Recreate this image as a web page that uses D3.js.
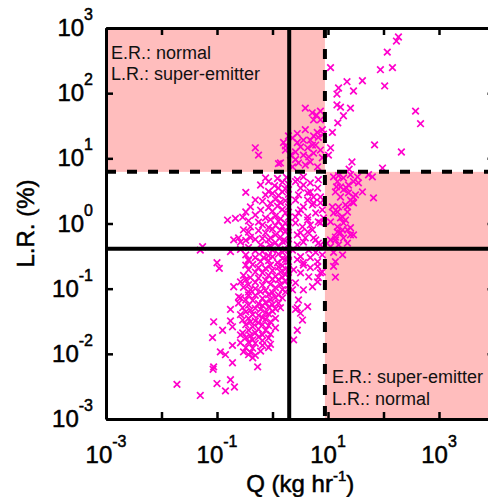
<!DOCTYPE html>
<html><head><meta charset="utf-8">
<script src="https://cdn.jsdelivr.net/npm/d3@7"></script>
<style>
html,body{margin:0;padding:0;background:#fff;}
svg{display:block;font-family:"Liberation Sans",Arial,Helvetica,sans-serif;}
</style></head><body>
<svg id="chart" width="488" height="497"></svg>
<script>
// ---------- data ----------
const xTickExps = [-3, -2, -1, 0, 1, 2, 3, 4];
const xLabelExps = [-3, -1, 1, 3];
const yTickExps = [-3, -2, -1, 0, 1, 2, 3];
const xDomain = [1e-3, 1e4];
const yDomain = [1e-3, 1e3];
const qThresholds = [2.0, 8.8];    // solid, dashed (kg/hr)
const lrThresholds = [0.41, 6.2];  // solid, dashed (%)
const regionLabelsTopLeft = ["E.R.: normal", "L.R.: super-emitter"];
const regionLabelsBottomRight = ["E.R.: super-emitter", "L.R.: normal"];

// [Q (kg/hr), L.R. (%)]
const pointsUpperRight = [
[186,728],[171,631],[117,427],[88,229],[145,247],[105,129],[11.1,247],[22,150],[15.5,120],[28.8,108],
[41.7,155],[14.5,97],[14.5,66],[16.8,61],[25.4,59],[19,45],[15,35],[12,25],[378,53],[465,34],
[69,16.1],[210,12.5],[27,8.8],[24,6.8],[96,7.1],[10.2,11.2],[11.1,14.5]
];
const pointsUpperLeft = [
[3.9,59],[5.2,50],[7.3,53],[6.2,46],[5.5,39],[7.3,39],[3.9,27.5],[2.8,24],[6.4,25],[7.9,27.5],
[5.5,22],[1.94,22],[1.58,17.5],[2.29,20.5],[2.8,17.5],[3.6,19],[4.8,19],[6.7,21],[3.2,15],[4.3,14.5],
[6.0,16],[7.3,13.4],[2.6,12.5],[3.6,11.2],[5.5,12],[7.9,10.2],[4.8,8.8],[2.94,8.5],[2.29,7.4],[6.5,7.4],
[1.39,8.5],[0.49,14.5],[0.56,11.2],[1.71,15.5],[1.28,8.3],[2.11,11.2],[3.9,7.9],[1.71,13.4],[5.25,16],
[2.6,9.6],[4.5,10.5],[8.3,23.6]
];
const pointsLowerRight = [
[12.6,5.2],[14.8,4.4],[16.8,3.65],[13.6,3.05],[19,3.3],[23.4,3.9],[28.8,4.4],[35.3,4.2],[41.7,3.05],
[31.3,2.75],[25.4,2.28],[16.8,2.55],[22.4,1.8],[28.8,2.07],[15.5,1.8],[12.6,1.45],[18.3,1.26],[20.7,1.13],
[14.8,0.89],[16.8,0.72],[22.4,0.8],[25.4,0.67],[13.6,0.62],[11.1,0.56],[66,2.47],[11.1,1.06],[63,5.2],
[53.7,5.6],[15.5,5.4],[19,5.0],[25.4,5.6],[34,5.2],[14.2,3.65],[21.5,3.5],[23.4,2.95],[28.8,2.55],
[20.7,1.93],[27.6,2.15],[12,1.8],[14.8,1.5],[22.4,1.5],[16.8,1.22],[19,1.02],[14.8,0.74],[18.3,0.8],
[25.4,0.86],[28.8,0.67],[13.6,0.56],[19,0.6],[22.4,0.5],[11.1,0.44],[15.5,0.47],[12.6,0.36],[18.3,0.33],
[13.6,0.26],[12.6,0.22],[13.6,0.15]
];
const pointsBetween = [
[2.6,4.4],[3.6,3.9],[4.8,3.05],[6.5,3.5],[2.94,2.75],[4.3,2.28],[5.5,2.07],[7.3,2.55],[3.2,1.62],[2.6,1.26],
[4.3,1.13],[6.0,1.45],[7.3,1.02],[5.25,0.8],[3.2,0.72],[3.9,0.6],[6.0,0.56],[2.8,0.47],[7.3,0.47],[2.8,4.7],
[3.6,5.2],[4.8,4.2],[6.7,4.7],[3.2,3.5],[4.3,2.95],[5.5,2.55],[2.6,2.28],[3.6,1.8],[5.25,1.93],[7.3,2.07],
[2.94,1.45],[4.3,1.26],[7.9,1.62],[2.6,1.02],[3.47,0.89],[4.8,0.95],[6.7,1.06],[8.3,1.22],[2.8,0.28],[3.6,0.25],
[4.8,0.3],[6.5,0.22],[7.9,0.18],[6.7,0.148],[4.5,0.152],[3.2,0.175],[2.6,0.123],[3.6,0.096],[5.25,0.107],[2.94,0.067],
[4.3,0.053],[2.6,0.048],[3.47,0.033],[2.8,0.023],[2.4,0.0164],[3.2,0.31],[3.6,0.23],[4.8,0.21],[6.5,0.26],[7.3,0.175],
[6.5,0.127],[2.8,0.051],[3.2,0.042],[2.8,0.67],[4.3,0.74],[5.5,0.6],[3.6,0.52],[6.7,0.5],[2.29,0.39],[4.5,0.39],
[6.0,0.36],[7.9,0.33],[2.4,0.195],[2.29,0.096]
];
const pointsMainUpper = [
[0.75,5.0],[1.23,4.9],[1.79,5.1],[0.85,4.4],[1.51,4.3],[0.61,3.9],[1.09,3.8],[1.94,4.0],[1.28,3.5],[1.71,3.4],
[0.33,3.0],[0.85,3.1],[1.0,2.9],[1.51,3.05],[0.75,2.75],[1.28,2.7],[1.94,2.8],[0.49,2.3],[0.66,2.2],[1.13,2.35],
[1.71,2.25],[0.92,2.05],[1.39,2.1],[0.40,1.8],[0.85,1.75],[1.23,1.85],[1.94,1.8],[0.61,1.6],[1.51,1.65],[0.33,1.5],
[1.0,1.55],[1.71,1.45],[0.49,1.35],[1.13,1.3],[0.215,1.2],[0.29,1.25],[0.75,1.22],[1.39,1.18],[1.94,1.25],[0.155,1.13],
[0.37,1.1],[0.92,1.15],[0.56,1.05],[1.28,1.08],[1.71,1.02],[0.66,0.95],[1.13,0.93],[0.40,0.89],[0.85,0.87],[1.51,0.9],
[1.94,0.88],[0.30,0.8],[0.56,0.78],[1.0,0.82],[1.39,0.79],[0.37,0.74],[0.75,0.72],[1.71,0.75],[1.13,0.67],[1.94,0.66],
[0.245,0.6],[0.40,0.61],[0.66,0.59],[0.92,0.6],[1.39,0.62],[0.20,0.56],[0.33,0.55],[0.49,0.57],[0.85,0.56],[1.71,0.54],
[0.265,0.52],[1.13,0.51],[1.51,0.53],[0.61,0.47],[0.92,0.46],[1.94,0.48],[0.37,0.43],[0.75,0.42],[1.28,0.44],[0.050,0.39],
[0.055,0.44],[0.175,0.37],[0.265,0.40],[0.49,0.38],[1.0,0.39],[1.71,0.40],[0.66,0.37],[1.51,0.36],[0.33,0.33],[0.85,0.32],
[1.28,0.34],[1.94,0.33],[0.49,0.30],[0.69,0.30],[1.0,0.31],[1.51,0.29],[0.37,0.28],[0.85,0.27],[1.71,0.28],[0.61,0.26],
[1.23,0.25],[1.94,0.26],[0.33,0.23],[0.44,0.235],[0.92,0.23],[1.51,0.225],[0.10,0.25],[0.37,0.27]
];
const pointsMainLower = [
[0.11,0.205],[0.56,0.21],[0.75,0.205],[1.28,0.215],[1.71,0.20],[0.37,0.195],[1.0,0.19],[1.94,0.195],[0.49,0.18],[0.66,0.175],
[1.39,0.18],[0.30,0.16],[0.85,0.16],[1.13,0.155],[1.71,0.165],[0.40,0.148],[0.56,0.145],[1.51,0.15],[1.94,0.147],[0.33,0.137],
[0.75,0.135],[1.0,0.14],[1.28,0.137],[0.265,0.127],[0.49,0.125],[1.71,0.13],[0.37,0.115],[0.66,0.113],[0.92,0.117],[1.39,0.115],
[1.94,0.112],[0.20,0.107],[0.30,0.105],[0.49,0.10],[1.13,0.104],[0.40,0.096],[0.75,0.094],[1.51,0.097],[0.245,0.075],[0.37,0.089],
[0.61,0.09],[1.0,0.087],[1.71,0.089],[0.37,0.080],[0.49,0.079],[0.85,0.081],[1.28,0.08],[0.265,0.072],[0.66,0.071],[1.13,0.073],
[1.51,0.072],[0.33,0.067],[0.44,0.066],[0.92,0.068],[0.245,0.060],[0.56,0.059],[0.75,0.061],[1.28,0.060],[0.37,0.056],[0.66,0.055],
[1.0,0.057],[0.29,0.051],[0.49,0.050],[0.85,0.052],[1.39,0.051],[0.175,0.048],[0.40,0.047],[0.61,0.048],[1.13,0.049],[0.33,0.044],
[0.75,0.043],[1.0,0.045],[0.265,0.040],[0.44,0.040],[0.56,0.039],[0.85,0.041],[0.37,0.035],[0.66,0.036],[1.13,0.035],[0.175,0.032],
[0.29,0.033],[0.49,0.032],[0.75,0.034],[0.087,0.031],[0.40,0.031],[0.56,0.030],[0.92,0.031],[0.33,0.028],[0.66,0.028],[0.85,0.027],
[0.126,0.023],[0.19,0.026],[0.44,0.026],[0.56,0.024],[1.13,0.025],[0.37,0.023],[0.75,0.023],[0.29,0.021],[0.49,0.021],[0.92,0.020],
[0.265,0.0195],[0.40,0.019],[0.66,0.0195],[0.083,0.0177],[0.33,0.0177],[0.56,0.018],[0.85,0.0175],[0.44,0.0164],[0.66,0.016],[0.265,0.0148],
[0.37,0.015],[0.49,0.0145],[0.19,0.0135],[0.66,0.0135],[0.92,0.014],[0.33,0.0124],[0.44,0.0122],[0.85,0.0125],[0.115,0.0107],[0.30,0.0107],
[0.40,0.0105],[0.61,0.011],[0.142,0.0097],[0.37,0.0097],[0.49,0.0095],[0.44,0.0087],[0.19,0.0073],[0.087,0.0063],[0.54,0.0063],[0.085,0.0058],
[0.175,0.0040],[0.10,0.0035],[0.206,0.0031],[0.142,0.0027],[0.050,0.0023],[0.019,0.0034]
];

// ---------- layout ----------
const W = 488, H = 497;
const margin = {left: 106, top: 28, bottom: 78};
const plotRight = 494.5;
const plotBottom = H - margin.bottom;
const pink = "#ffbdbd";
const magenta = "#ff00cc";

const svg = d3.select("#chart");
const x = d3.scaleLog().domain(xDomain).range([margin.left, plotRight]);
const y = d3.scaleLog().domain(yDomain).range([plotBottom, margin.top]);

// shaded regions
svg.append("rect")
  .attr("x", x(xDomain[0])).attr("y", y(yDomain[1]))
  .attr("width", x(qThresholds[1]) - x(xDomain[0]))
  .attr("height", y(lrThresholds[1]) - y(yDomain[1]))
  .attr("fill", pink);
svg.append("rect")
  .attr("x", x(qThresholds[1])).attr("y", y(lrThresholds[1]))
  .attr("width", x(xDomain[1]) - x(qThresholds[1]))
  .attr("height", y(yDomain[0]) - y(lrThresholds[1]))
  .attr("fill", pink);

// points
const allPoints = [].concat(pointsUpperRight, pointsUpperLeft, pointsLowerRight, pointsBetween, pointsMainUpper, pointsMainLower);
const s = 3.3;
svg.append("g").selectAll("path").data(allPoints).join("path")
  .attr("transform", d => `translate(${x(d[0])},${y(d[1])})`)
  .attr("d", `M${-s},${-s}L${s},${s}M${-s},${s}L${s},${-s}`)
  .attr("stroke", magenta).attr("stroke-width", 1.7).attr("fill", "none");

// threshold lines
const lines = svg.append("g").attr("stroke", "#000").attr("stroke-width", 4).attr("fill", "none");
lines.append("line").attr("x1", x(qThresholds[0])).attr("x2", x(qThresholds[0]))
  .attr("y1", y(yDomain[1])).attr("y2", y(yDomain[0]));
lines.append("line").attr("x1", x(qThresholds[1])).attr("x2", x(qThresholds[1]))
  .attr("y1", y(yDomain[1])).attr("y2", y(yDomain[0])).attr("stroke-dasharray", "10,11");
lines.append("line").attr("y1", y(lrThresholds[0])).attr("y2", y(lrThresholds[0]))
  .attr("x1", x(xDomain[0])).attr("x2", x(xDomain[1]));
lines.append("line").attr("y1", y(lrThresholds[1])).attr("y2", y(lrThresholds[1]))
  .attr("x1", x(xDomain[0])).attr("x2", x(xDomain[1])).attr("stroke-dasharray", "10,11");

// axes
const xTicks = xTickExps.map(e => Math.pow(10, e));
const yTicks = yTickExps.map(e => Math.pow(10, e));
function styleAxis(g) {
  g.select(".domain").attr("stroke", "#000").attr("stroke-width", 3);
  g.selectAll(".tick line").attr("stroke", "#000").attr("stroke-width", 2.5);
  g.selectAll(".tick text").remove();
}
svg.append("g").attr("transform", `translate(0,${plotBottom})`)
  .call(d3.axisBottom(x).tickValues(xTicks).tickSizeInner(-7).tickSizeOuter(0).tickFormat(""))
  .call(styleAxis);
svg.append("g").attr("transform", `translate(0,${margin.top})`)
  .call(d3.axisTop(x).tickValues(xTicks).tickSizeInner(-7).tickSizeOuter(0).tickFormat(""))
  .call(styleAxis);
svg.append("g").attr("transform", `translate(${margin.left},0)`)
  .call(d3.axisLeft(y).tickValues(yTicks).tickSizeInner(-7).tickSizeOuter(0).tickFormat(""))
  .call(styleAxis);
svg.append("g").attr("transform", `translate(${plotRight},0)`)
  .call(d3.axisRight(y).tickValues(yTicks).tickSizeInner(-7).tickSizeOuter(0).tickFormat(""))
  .call(styleAxis);

// text helper: regular weight with a slight outline to match the heavier look
function heavy(sel) { return sel.attr("fill", "#000").attr("stroke", "#000").attr("stroke-width", 0.5); }

// tick labels
const xl = svg.append("g").selectAll("text").data(xLabelExps).join("text")
  .attr("x", d => x(Math.pow(10, d))).attr("y", plotBottom + 44)
  .attr("text-anchor", "middle").attr("font-size", 24).call(heavy);
xl.append("tspan").text("10");
xl.append("tspan").attr("dy", -16).attr("font-size", 16).text(d => String(d));

const yl = svg.append("g").selectAll("text").data(yTickExps).join("text")
  .attr("x", margin.left - 13).attr("y", d => y(Math.pow(10, d)) + 8)
  .attr("text-anchor", "end").attr("font-size", 24).call(heavy);
yl.append("tspan").text("10");
yl.append("tspan").attr("dy", -16).attr("font-size", 16).text(d => String(d));

// axis titles
const xt = svg.append("text").attr("x", (margin.left + plotRight) / 2).attr("y", H - 5)
  .attr("text-anchor", "middle").attr("font-size", 24).call(heavy);
xt.append("tspan").text("Q (kg hr");
xt.append("tspan").attr("dy", -11).attr("font-size", 15).text("-1");
xt.append("tspan").attr("dy", 11).attr("font-size", 24).text(")");

svg.append("text").attr("transform", `translate(34,${(margin.top + plotBottom) / 2}) rotate(-90)`)
  .attr("text-anchor", "middle").attr("font-size", 24).call(heavy).text("L.R. (%)");

// region labels
svg.append("g").selectAll("text").data(regionLabelsTopLeft).join("text")
  .attr("x", x(xDomain[0]) + 5).attr("y", (d, i) => y(yDomain[1]) + 31 + i * 21)
  .attr("font-size", 18).attr("fill", "#111").text(d => d);
svg.append("g").selectAll("text").data(regionLabelsBottomRight).join("text")
  .attr("x", x(qThresholds[1]) + 7).attr("y", (d, i) => y(yDomain[0]) - 36 + i * 22)
  .attr("font-size", 18).attr("fill", "#111").text(d => d);
</script>
</body></html>
